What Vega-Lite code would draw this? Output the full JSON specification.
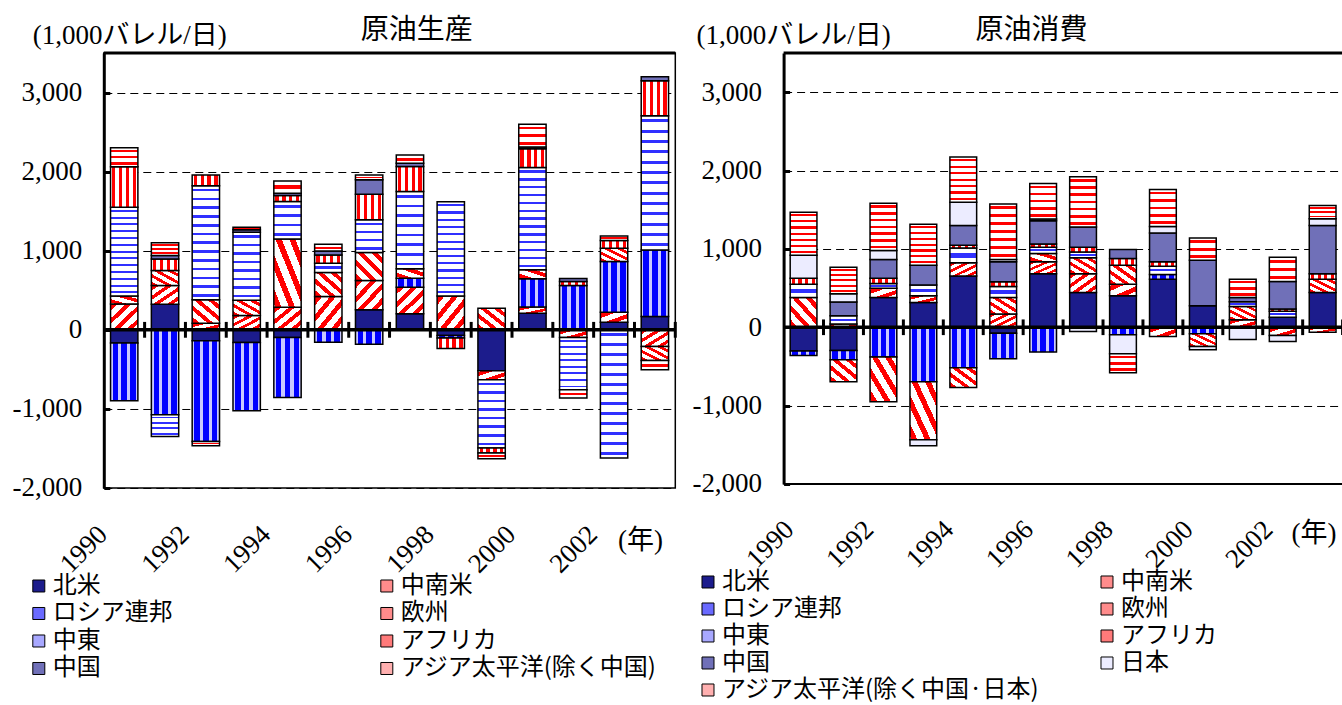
{
"$schema":"https://vega.github.io/schema/vega-lite/v6.json",
"background":"white",
"padding":{"left":10.8,"top":15,"right":0,"bottom":0},
"bounds":"flush",
"spacing":107.8,
"data":{"values":[
{"p":"P","year":1990,"region":"北米","v":-168},{"p":"P","year":1990,"region":"中南米","v":328},{"p":"P","year":1990,"region":"ロシア連邦","v":-728},{"p":"P","year":1990,"region":"欧州","v":101},{"p":"P","year":1990,"region":"中東","v":1120},{"p":"P","year":1990,"region":"アフリカ","v":514},{"p":"P","year":1990,"region":"アジア太平洋(除く中国)","v":240},
{"p":"P","year":1991,"region":"北米","v":324},{"p":"P","year":1991,"region":"中南米","v":236},{"p":"P","year":1991,"region":"ロシア連邦","v":-1074},{"p":"P","year":1991,"region":"欧州","v":189},{"p":"P","year":1991,"region":"中東","v":-274},{"p":"P","year":1991,"region":"アフリカ","v":147},{"p":"P","year":1991,"region":"中国","v":45},{"p":"P","year":1991,"region":"アジア太平洋(除く中国)","v":160},
{"p":"P","year":1992,"region":"北米","v":-139},{"p":"P","year":1992,"region":"中南米","v":84},{"p":"P","year":1992,"region":"ロシア連邦","v":-1272},{"p":"P","year":1992,"region":"欧州","v":295},{"p":"P","year":1992,"region":"中東","v":1444},{"p":"P","year":1992,"region":"アフリカ","v":135},{"p":"P","year":1992,"region":"アジア太平洋(除く中国)","v":-55},
{"p":"P","year":1993,"region":"北米","v":-160},{"p":"P","year":1993,"region":"中南米","v":181},{"p":"P","year":1993,"region":"ロシア連邦","v":-863},{"p":"P","year":1993,"region":"欧州","v":194},{"p":"P","year":1993,"region":"中東","v":859},{"p":"P","year":1993,"region":"中国","v":30},{"p":"P","year":1993,"region":"アジア太平洋(除く中国)","v":34},
{"p":"P","year":1994,"region":"北米","v":-97},{"p":"P","year":1994,"region":"中南米","v":286},{"p":"P","year":1994,"region":"ロシア連邦","v":-758},{"p":"P","year":1994,"region":"欧州","v":863},{"p":"P","year":1994,"region":"中東","v":472},{"p":"P","year":1994,"region":"アフリカ","v":76},{"p":"P","year":1994,"region":"中国","v":30},{"p":"P","year":1994,"region":"アジア太平洋(除く中国)","v":156},
{"p":"P","year":1995,"region":"中南米","v":421},{"p":"P","year":1995,"region":"ロシア連邦","v":-156},{"p":"P","year":1995,"region":"欧州","v":303},{"p":"P","year":1995,"region":"中東","v":118},{"p":"P","year":1995,"region":"アフリカ","v":105},{"p":"P","year":1995,"region":"中国","v":50},{"p":"P","year":1995,"region":"アジア太平洋(除く中国)","v":84},
{"p":"P","year":1996,"region":"北米","v":253},{"p":"P","year":1996,"region":"中南米","v":371},{"p":"P","year":1996,"region":"ロシア連邦","v":-181},{"p":"P","year":1996,"region":"欧州","v":354},{"p":"P","year":1996,"region":"中東","v":413},{"p":"P","year":1996,"region":"アフリカ","v":324},{"p":"P","year":1996,"region":"中国","v":181},{"p":"P","year":1996,"region":"アジア太平洋(除く中国)","v":63},
{"p":"P","year":1997,"region":"北米","v":202},{"p":"P","year":1997,"region":"中南米","v":337},{"p":"P","year":1997,"region":"ロシア連邦","v":114},{"p":"P","year":1997,"region":"欧州","v":118},{"p":"P","year":1997,"region":"中東","v":977},{"p":"P","year":1997,"region":"アフリカ","v":316},{"p":"P","year":1997,"region":"中国","v":42},{"p":"P","year":1997,"region":"アジア太平洋(除く中国)","v":105},
{"p":"P","year":1998,"region":"北米","v":-72},{"p":"P","year":1998,"region":"中南米","v":429},{"p":"P","year":1998,"region":"ロシア連邦","v":-30},{"p":"P","year":1998,"region":"中東","v":1191},{"p":"P","year":1998,"region":"アフリカ","v":-135},
{"p":"P","year":1999,"region":"北米","v":-518},{"p":"P","year":1999,"region":"中南米","v":-114},{"p":"P","year":1999,"region":"欧州","v":274},{"p":"P","year":1999,"region":"中東","v":-863},{"p":"P","year":1999,"region":"アフリカ","v":-63},{"p":"P","year":1999,"region":"アジア太平洋(除く中国)","v":-72},
{"p":"P","year":2000,"region":"北米","v":211},{"p":"P","year":2000,"region":"中南米","v":76},{"p":"P","year":2000,"region":"ロシア連邦","v":358},{"p":"P","year":2000,"region":"欧州","v":114},{"p":"P","year":2000,"region":"中東","v":1293},{"p":"P","year":2000,"region":"アフリカ","v":236},{"p":"P","year":2000,"region":"中国","v":25},{"p":"P","year":2000,"region":"アジア太平洋(除く中国)","v":286},
{"p":"P","year":2001,"region":"中南米","v":-97},{"p":"P","year":2001,"region":"ロシア連邦","v":560},{"p":"P","year":2001,"region":"中東","v":-661},{"p":"P","year":2001,"region":"アフリカ","v":50},{"p":"P","year":2001,"region":"中国","v":40},{"p":"P","year":2001,"region":"アジア太平洋(除く中国)","v":-105},
{"p":"P","year":2002,"region":"北米","v":97},{"p":"P","year":2002,"region":"中南米","v":126},{"p":"P","year":2002,"region":"ロシア連邦","v":640},{"p":"P","year":2002,"region":"欧州","v":168},{"p":"P","year":2002,"region":"中東","v":-1621},{"p":"P","year":2002,"region":"アフリカ","v":97},{"p":"P","year":2002,"region":"アジア太平洋(除く中国)","v":59},
{"p":"P","year":2003,"region":"北米","v":168},{"p":"P","year":2003,"region":"中南米","v":-211},{"p":"P","year":2003,"region":"ロシア連邦","v":842},{"p":"P","year":2003,"region":"欧州","v":-177},{"p":"P","year":2003,"region":"中東","v":1697},{"p":"P","year":2003,"region":"アフリカ","v":442},{"p":"P","year":2003,"region":"中国","v":50},{"p":"P","year":2003,"region":"アジア太平洋(除く中国)","v":-118},
{"p":"C","year":1990,"region":"北米","v":-304},{"p":"C","year":1990,"region":"ロシア連邦","v":-55},{"p":"C","year":1990,"region":"欧州","v":380},{"p":"C","year":1990,"region":"中東","v":169},{"p":"C","year":1990,"region":"アフリカ","v":76},{"p":"C","year":1990,"region":"日本","v":295},{"p":"C","year":1990,"region":"アジア太平洋(除く中国·日本)","v":549},
{"p":"C","year":1991,"region":"北米","v":-295},{"p":"C","year":1991,"region":"中南米","v":42},{"p":"C","year":1991,"region":"ロシア連邦","v":-118},{"p":"C","year":1991,"region":"欧州","v":-283},{"p":"C","year":1991,"region":"中東","v":105},{"p":"C","year":1991,"region":"中国","v":177},{"p":"C","year":1991,"region":"日本","v":105},{"p":"C","year":1991,"region":"アジア太平洋(除く中国·日本)","v":338},
{"p":"C","year":1992,"region":"北米","v":380},{"p":"C","year":1992,"region":"中南米","v":118},{"p":"C","year":1992,"region":"ロシア連邦","v":-380},{"p":"C","year":1992,"region":"欧州","v":-570},{"p":"C","year":1992,"region":"中東","v":59},{"p":"C","year":1992,"region":"アフリカ","v":68},{"p":"C","year":1992,"region":"中国","v":241},{"p":"C","year":1992,"region":"日本","v":114},{"p":"C","year":1992,"region":"アジア太平洋(除く中国·日本)","v":603},
{"p":"C","year":1993,"region":"北米","v":317},{"p":"C","year":1993,"region":"中南米","v":84},{"p":"C","year":1993,"region":"ロシア連邦","v":-696},{"p":"C","year":1993,"region":"欧州","v":-739},{"p":"C","year":1993,"region":"中東","v":139},{"p":"C","year":1993,"region":"中国","v":253},{"p":"C","year":1993,"region":"日本","v":-76},{"p":"C","year":1993,"region":"アジア太平洋(除く中国·日本)","v":523},
{"p":"C","year":1994,"region":"北米","v":654},{"p":"C","year":1994,"region":"中南米","v":169},{"p":"C","year":1994,"region":"ロシア連邦","v":-515},{"p":"C","year":1994,"region":"欧州","v":-253},{"p":"C","year":1994,"region":"中東","v":190},{"p":"C","year":1994,"region":"アフリカ","v":34},{"p":"C","year":1994,"region":"中国","v":253},{"p":"C","year":1994,"region":"日本","v":295},{"p":"C","year":1994,"region":"アジア太平洋(除く中国·日本)","v":578},
{"p":"C","year":1995,"region":"北米","v":-76},{"p":"C","year":1995,"region":"中南米","v":169},{"p":"C","year":1995,"region":"ロシア連邦","v":-325},{"p":"C","year":1995,"region":"欧州","v":211},{"p":"C","year":1995,"region":"中東","v":139},{"p":"C","year":1995,"region":"アフリカ","v":63},{"p":"C","year":1995,"region":"中国","v":253},{"p":"C","year":1995,"region":"日本","v":30},{"p":"C","year":1995,"region":"アジア太平洋(除く中国·日本)","v":709},
{"p":"C","year":1996,"region":"北米","v":684},{"p":"C","year":1996,"region":"中南米","v":152},{"p":"C","year":1996,"region":"ロシア連邦","v":-317},{"p":"C","year":1996,"region":"欧州","v":105},{"p":"C","year":1996,"region":"中東","v":80},{"p":"C","year":1996,"region":"アフリカ","v":42},{"p":"C","year":1996,"region":"中国","v":295},{"p":"C","year":1996,"region":"日本","v":25},{"p":"C","year":1996,"region":"アジア太平洋(除く中国·日本)","v":451},
{"p":"C","year":1997,"region":"北米","v":443},{"p":"C","year":1997,"region":"中南米","v":241},{"p":"C","year":1997,"region":"欧州","v":203},{"p":"C","year":1997,"region":"中東","v":72},{"p":"C","year":1997,"region":"アフリカ","v":63},{"p":"C","year":1997,"region":"中国","v":257},{"p":"C","year":1997,"region":"日本","v":-55},{"p":"C","year":1997,"region":"アジア太平洋(除く中国·日本)","v":641},
{"p":"C","year":1998,"region":"北米","v":401},{"p":"C","year":1998,"region":"中南米","v":148},{"p":"C","year":1998,"region":"ロシア連邦","v":-97},{"p":"C","year":1998,"region":"欧州","v":241},{"p":"C","year":1998,"region":"アフリカ","v":89},{"p":"C","year":1998,"region":"中国","v":114},{"p":"C","year":1998,"region":"日本","v":-241},{"p":"C","year":1998,"region":"アジア太平洋(除く中国·日本)","v":-241},
{"p":"C","year":1999,"region":"北米","v":612},{"p":"C","year":1999,"region":"中南米","v":-118},{"p":"C","year":1999,"region":"ロシア連邦","v":63},{"p":"C","year":1999,"region":"中東","v":105},{"p":"C","year":1999,"region":"アフリカ","v":55},{"p":"C","year":1999,"region":"中国","v":367},{"p":"C","year":1999,"region":"日本","v":84},{"p":"C","year":1999,"region":"アジア太平洋(除く中国·日本)","v":473},
{"p":"C","year":2000,"region":"北米","v":274},{"p":"C","year":2000,"region":"ロシア連邦","v":-84},{"p":"C","year":2000,"region":"欧州","v":-160},{"p":"C","year":2000,"region":"中国","v":582},{"p":"C","year":2000,"region":"日本","v":-42},{"p":"C","year":2000,"region":"アジア太平洋(除く中国·日本)","v":283},
{"p":"C","year":2001,"region":"中南米","v":97},{"p":"C","year":2001,"region":"欧州","v":169},{"p":"C","year":2001,"region":"中東","v":59},{"p":"C","year":2001,"region":"中国","v":55},{"p":"C","year":2001,"region":"日本","v":-156},{"p":"C","year":2001,"region":"アジア太平洋(除く中国·日本)","v":232},
{"p":"C","year":2002,"region":"北米","v":127},{"p":"C","year":2002,"region":"中南米","v":-105},{"p":"C","year":2002,"region":"中東","v":76},{"p":"C","year":2002,"region":"アフリカ","v":30},{"p":"C","year":2002,"region":"中国","v":350},{"p":"C","year":2002,"region":"日本","v":-76},{"p":"C","year":2002,"region":"アジア太平洋(除く中国·日本)","v":312},
{"p":"C","year":2003,"region":"北米","v":443},{"p":"C","year":2003,"region":"中南米","v":-63},{"p":"C","year":2003,"region":"欧州","v":169},{"p":"C","year":2003,"region":"アフリカ","v":72},{"p":"C","year":2003,"region":"中国","v":616},{"p":"C","year":2003,"region":"日本","v":84},{"p":"C","year":2003,"region":"アジア太平洋(除く中国·日本)","v":169}
]},
"hconcat":[
{
"width":571.5,"height":435,
"transform":[{"filter":"datum.p==='P'"}],
"layer":[
{
"transform":[{"calculate":"indexof(['北米','中南米','ロシア連邦','欧州','中東','アフリカ','中国','日本','アジア太平洋(除く中国)','アジア太平洋(除く中国·日本)'], datum.region)","as":"k"}],
"mark":{"type":"bar","stroke":"black","strokeWidth":1.5},
"encoding":{
"x":{"field":"year","type":"ordinal","scale":{"paddingInner":0.33,"paddingOuter":0.165},
 "axis":{"orient":"bottom","values":[1990,1992,1994,1996,1998,2000,2002],"labelAngle":-45,"labelAlign":"right","labelBaseline":"middle","labelOffset":-21,"labelPadding":42,"labelOverlap":false,"ticks":false,"domain":false,"grid":false,"labelFont":"Liberation Serif","labelFontSize":27,"labelColor":"black",
 "title":"(年)","titleX":513.7,"titleY":53,"titleAlign":"left","titleBaseline":"middle","titleAngle":0,"titleFont":"Liberation Serif, Noto Sans CJK JP","titleFontSize":27,"titleFontWeight":"normal","titleColor":"black"}},
"y":{"field":"v","type":"quantitative","stack":"zero","scale":{"domain":[-2000,3500],"nice":false},
 "axis":{"values":[-2000,-1000,0,1000,2000,3000],"labelExpr":"replace(format(datum.value, ','), '−', '-')","labelFont":"Liberation Serif","labelFontSize":27,"labelColor":"black","labelPadding":28,"tickSize":-6,"tickWidth":3,"tickColor":"black","domainColor":"black","domainWidth":3,"grid":true,"gridColor":"black","gridDash":[8,5],"gridWidth":1,
 "title":"(1,000バレル/日)","titleAngle":0,"titleAlign":"left","titleBaseline":"middle","titleX":-71.6,"titleY":-17.5,"titleFont":"Liberation Serif, Noto Sans CJK JP","titleFontSize":27,"titleFontWeight":"normal","titleColor":"black"}},
"fill":{"field":"region","type":"nominal",
 "scale":{"domain":["北米","ロシア連邦","中東","中国","中南米","欧州","アフリカ","アジア太平洋(除く中国)"],
 "range":["#1c1c8c","#6a6aff","#a8a8ff","#7070b8","#ff8c8c","#ff8c8c","#ff7a7a","#ffb0b0"]},
 "legend":{"orient":"none","direction":"vertical","legendX":-77,"legendY":521,"columns":2,"columnPadding":202,"rowPadding":3.5,"title":null,"symbolType":"square","symbolSize":144,"symbolStrokeColor":"black","symbolStrokeWidth":1,"symbolOpacity":1,"labelFont":"Noto Sans CJK JP","labelFontSize":24,"labelColor":"black","labelOffset":2,"labelLimit":600},
 "condition":[
 {"test":"datum.region==='中南米' && abs(datum.v)<150","value":{"gradient":"linear","x1":0,"y1":0,"x2":1,"y2":1,"stops":[{"offset":0,"color":"#ffffff"},{"offset":0.08,"color":"#ffffff"},{"offset":0.08,"color":"#ff0000"},{"offset":0.3,"color":"#ff0000"},{"offset":0.3,"color":"#ffffff"},{"offset":0.58,"color":"#ffffff"},{"offset":0.58,"color":"#ff0000"},{"offset":0.8,"color":"#ff0000"},{"offset":0.8,"color":"#ffffff"},{"offset":1,"color":"#ffffff"}]}},
 {"test":"datum.region==='中南米'","value":{"gradient":"linear","x1":0,"y1":0,"x2":1,"y2":1,"stops":[{"offset":0,"color":"#ffffff"},{"offset":0.03,"color":"#ffffff"},{"offset":0.03,"color":"#ff0000"},{"offset":0.14,"color":"#ff0000"},{"offset":0.14,"color":"#ffffff"},{"offset":0.28,"color":"#ffffff"},{"offset":0.28,"color":"#ff0000"},{"offset":0.39,"color":"#ff0000"},{"offset":0.39,"color":"#ffffff"},{"offset":0.53,"color":"#ffffff"},{"offset":0.53,"color":"#ff0000"},{"offset":0.64,"color":"#ff0000"},{"offset":0.64,"color":"#ffffff"},{"offset":0.78,"color":"#ffffff"},{"offset":0.78,"color":"#ff0000"},{"offset":0.89,"color":"#ff0000"},{"offset":0.89,"color":"#ffffff"},{"offset":1,"color":"#ffffff"}]}},
 {"test":"datum.region==='欧州' && abs(datum.v)<150","value":{"gradient":"linear","x1":0,"y1":1,"x2":1,"y2":0,"stops":[{"offset":0,"color":"#ffffff"},{"offset":0.08,"color":"#ffffff"},{"offset":0.08,"color":"#ff0000"},{"offset":0.3,"color":"#ff0000"},{"offset":0.3,"color":"#ffffff"},{"offset":0.58,"color":"#ffffff"},{"offset":0.58,"color":"#ff0000"},{"offset":0.8,"color":"#ff0000"},{"offset":0.8,"color":"#ffffff"},{"offset":1,"color":"#ffffff"}]}},
 {"test":"datum.region==='欧州'","value":{"gradient":"linear","x1":0,"y1":1,"x2":1,"y2":0,"stops":[{"offset":0,"color":"#ffffff"},{"offset":0.03,"color":"#ffffff"},{"offset":0.03,"color":"#ff0000"},{"offset":0.14,"color":"#ff0000"},{"offset":0.14,"color":"#ffffff"},{"offset":0.28,"color":"#ffffff"},{"offset":0.28,"color":"#ff0000"},{"offset":0.39,"color":"#ff0000"},{"offset":0.39,"color":"#ffffff"},{"offset":0.53,"color":"#ffffff"},{"offset":0.53,"color":"#ff0000"},{"offset":0.64,"color":"#ff0000"},{"offset":0.64,"color":"#ffffff"},{"offset":0.78,"color":"#ffffff"},{"offset":0.78,"color":"#ff0000"},{"offset":0.89,"color":"#ff0000"},{"offset":0.89,"color":"#ffffff"},{"offset":1,"color":"#ffffff"}]}},
 {"test":"datum.region==='アフリカ'","value":{"gradient":"linear","x1":0,"y1":0,"x2":1,"y2":0,"stops":[{"offset":0,"color":"#ffffff"},{"offset":0.06,"color":"#ffffff"},{"offset":0.06,"color":"#ff0000"},{"offset":0.18,"color":"#ff0000"},{"offset":0.18,"color":"#ffffff"},{"offset":0.31,"color":"#ffffff"},{"offset":0.31,"color":"#ff0000"},{"offset":0.43,"color":"#ff0000"},{"offset":0.43,"color":"#ffffff"},{"offset":0.56,"color":"#ffffff"},{"offset":0.56,"color":"#ff0000"},{"offset":0.68,"color":"#ff0000"},{"offset":0.68,"color":"#ffffff"},{"offset":0.81,"color":"#ffffff"},{"offset":0.81,"color":"#ff0000"},{"offset":0.93,"color":"#ff0000"},{"offset":0.93,"color":"#ffffff"},{"offset":1,"color":"#ffffff"}]}},
 {"test":"datum.region==='ロシア連邦'","value":{"gradient":"linear","x1":0,"y1":0,"x2":1,"y2":0,"stops":[{"offset":0,"color":"#c8c8ff"},{"offset":0.08,"color":"#c8c8ff"},{"offset":0.08,"color":"#0000ff"},{"offset":0.28,"color":"#0000ff"},{"offset":0.28,"color":"#c8c8ff"},{"offset":0.4,"color":"#c8c8ff"},{"offset":0.4,"color":"#0000ff"},{"offset":0.6,"color":"#0000ff"},{"offset":0.6,"color":"#c8c8ff"},{"offset":0.72,"color":"#c8c8ff"},{"offset":0.72,"color":"#0000ff"},{"offset":0.92,"color":"#0000ff"},{"offset":0.92,"color":"#c8c8ff"},{"offset":1,"color":"#c8c8ff"}]}},
 {"test":"indexof(datum.region,'アジア')===0 && abs(datum.v)<160","value":{"gradient":"linear","x1":0,"y1":0,"x2":0,"y2":1,"stops":[{"offset":0,"color":"#ffffff"},{"offset":0.33,"color":"#ffffff"},{"offset":0.33,"color":"#ff0000"},{"offset":0.67,"color":"#ff0000"},{"offset":0.67,"color":"#ffffff"},{"offset":1,"color":"#ffffff"}]}},
 {"test":"indexof(datum.region,'アジア')===0 && abs(datum.v)<330","value":{"gradient":"linear","x1":0,"y1":0,"x2":0,"y2":1,"stops":[{"offset":0,"color":"#ffffff"},{"offset":0.1,"color":"#ffffff"},{"offset":0.1,"color":"#ff0000"},{"offset":0.23,"color":"#ff0000"},{"offset":0.23,"color":"#ffffff"},{"offset":0.43,"color":"#ffffff"},{"offset":0.43,"color":"#ff0000"},{"offset":0.57,"color":"#ff0000"},{"offset":0.57,"color":"#ffffff"},{"offset":0.77,"color":"#ffffff"},{"offset":0.77,"color":"#ff0000"},{"offset":0.9,"color":"#ff0000"},{"offset":0.9,"color":"#ffffff"},{"offset":1,"color":"#ffffff"}]}},
 {"test":"indexof(datum.region,'アジア')===0 && abs(datum.v)<500","value":{"gradient":"linear","x1":0,"y1":0,"x2":0,"y2":1,"stops":[{"offset":0,"color":"#ffffff"},{"offset":0.065,"color":"#ffffff"},{"offset":0.065,"color":"#ff0000"},{"offset":0.135,"color":"#ff0000"},{"offset":0.135,"color":"#ffffff"},{"offset":0.265,"color":"#ffffff"},{"offset":0.265,"color":"#ff0000"},{"offset":0.335,"color":"#ff0000"},{"offset":0.335,"color":"#ffffff"},{"offset":0.465,"color":"#ffffff"},{"offset":0.465,"color":"#ff0000"},{"offset":0.535,"color":"#ff0000"},{"offset":0.535,"color":"#ffffff"},{"offset":0.665,"color":"#ffffff"},{"offset":0.665,"color":"#ff0000"},{"offset":0.735,"color":"#ff0000"},{"offset":0.735,"color":"#ffffff"},{"offset":0.865,"color":"#ffffff"},{"offset":0.865,"color":"#ff0000"},{"offset":0.935,"color":"#ff0000"},{"offset":0.935,"color":"#ffffff"},{"offset":1,"color":"#ffffff"}]}},
 {"test":"indexof(datum.region,'アジア')===0","value":{"gradient":"linear","x1":0,"y1":0,"x2":0,"y2":1,"stops":[{"offset":0,"color":"#ffffff"},{"offset":0.046,"color":"#ffffff"},{"offset":0.046,"color":"#ff0000"},{"offset":0.096,"color":"#ff0000"},{"offset":0.096,"color":"#ffffff"},{"offset":0.189,"color":"#ffffff"},{"offset":0.189,"color":"#ff0000"},{"offset":0.239,"color":"#ff0000"},{"offset":0.239,"color":"#ffffff"},{"offset":0.332,"color":"#ffffff"},{"offset":0.332,"color":"#ff0000"},{"offset":0.382,"color":"#ff0000"},{"offset":0.382,"color":"#ffffff"},{"offset":0.475,"color":"#ffffff"},{"offset":0.475,"color":"#ff0000"},{"offset":0.525,"color":"#ff0000"},{"offset":0.525,"color":"#ffffff"},{"offset":0.618,"color":"#ffffff"},{"offset":0.618,"color":"#ff0000"},{"offset":0.668,"color":"#ff0000"},{"offset":0.668,"color":"#ffffff"},{"offset":0.761,"color":"#ffffff"},{"offset":0.761,"color":"#ff0000"},{"offset":0.811,"color":"#ff0000"},{"offset":0.811,"color":"#ffffff"},{"offset":0.904,"color":"#ffffff"},{"offset":0.904,"color":"#ff0000"},{"offset":0.954,"color":"#ff0000"},{"offset":0.954,"color":"#ffffff"},{"offset":1,"color":"#ffffff"}]}},
 {"test":"datum.region==='中東' && abs(datum.v)<200","value":{"gradient":"linear","x1":0,"y1":0,"x2":0,"y2":1,"stops":[{"offset":0,"color":"#ffffff"},{"offset":0.35,"color":"#ffffff"},{"offset":0.35,"color":"#3030ff"},{"offset":0.65,"color":"#3030ff"},{"offset":0.65,"color":"#ffffff"},{"offset":1,"color":"#ffffff"}]}},
 {"test":"datum.region==='中東' && abs(datum.v)<600","value":{"gradient":"linear","x1":0,"y1":0,"x2":0,"y2":1,"stops":[{"offset":0,"color":"#ffffff"},{"offset":0.0875,"color":"#ffffff"},{"offset":0.0875,"color":"#3030ff"},{"offset":0.1625,"color":"#3030ff"},{"offset":0.1625,"color":"#ffffff"},{"offset":0.3375,"color":"#ffffff"},{"offset":0.3375,"color":"#3030ff"},{"offset":0.4125,"color":"#3030ff"},{"offset":0.4125,"color":"#ffffff"},{"offset":0.5875,"color":"#ffffff"},{"offset":0.5875,"color":"#3030ff"},{"offset":0.6625,"color":"#3030ff"},{"offset":0.6625,"color":"#ffffff"},{"offset":0.8375,"color":"#ffffff"},{"offset":0.8375,"color":"#3030ff"},{"offset":0.9125,"color":"#3030ff"},{"offset":0.9125,"color":"#ffffff"},{"offset":1,"color":"#ffffff"}]}},
 {"test":"datum.region==='中東' && abs(datum.v)<1000","value":{"gradient":"linear","x1":0,"y1":0,"x2":0,"y2":1,"stops":[{"offset":0,"color":"#ffffff"},{"offset":0.044,"color":"#ffffff"},{"offset":0.044,"color":"#3030ff"},{"offset":0.081,"color":"#3030ff"},{"offset":0.081,"color":"#ffffff"},{"offset":0.169,"color":"#ffffff"},{"offset":0.169,"color":"#3030ff"},{"offset":0.206,"color":"#3030ff"},{"offset":0.206,"color":"#ffffff"},{"offset":0.294,"color":"#ffffff"},{"offset":0.294,"color":"#3030ff"},{"offset":0.331,"color":"#3030ff"},{"offset":0.331,"color":"#ffffff"},{"offset":0.419,"color":"#ffffff"},{"offset":0.419,"color":"#3030ff"},{"offset":0.456,"color":"#3030ff"},{"offset":0.456,"color":"#ffffff"},{"offset":0.544,"color":"#ffffff"},{"offset":0.544,"color":"#3030ff"},{"offset":0.581,"color":"#3030ff"},{"offset":0.581,"color":"#ffffff"},{"offset":0.669,"color":"#ffffff"},{"offset":0.669,"color":"#3030ff"},{"offset":0.706,"color":"#3030ff"},{"offset":0.706,"color":"#ffffff"},{"offset":0.794,"color":"#ffffff"},{"offset":0.794,"color":"#3030ff"},{"offset":0.831,"color":"#3030ff"},{"offset":0.831,"color":"#ffffff"},{"offset":0.919,"color":"#ffffff"},{"offset":0.919,"color":"#3030ff"},{"offset":0.956,"color":"#3030ff"},{"offset":0.956,"color":"#ffffff"},{"offset":1,"color":"#ffffff"}]}},
 {"test":"datum.region==='中東'","value":{"gradient":"linear","x1":0,"y1":0,"x2":0,"y2":1,"stops":[{"offset":0,"color":"#ffffff"},{"offset":0.027,"color":"#ffffff"},{"offset":0.027,"color":"#3030ff"},{"offset":0.05,"color":"#3030ff"},{"offset":0.05,"color":"#ffffff"},{"offset":0.104,"color":"#ffffff"},{"offset":0.104,"color":"#3030ff"},{"offset":0.127,"color":"#3030ff"},{"offset":0.127,"color":"#ffffff"},{"offset":0.181,"color":"#ffffff"},{"offset":0.181,"color":"#3030ff"},{"offset":0.204,"color":"#3030ff"},{"offset":0.204,"color":"#ffffff"},{"offset":0.258,"color":"#ffffff"},{"offset":0.258,"color":"#3030ff"},{"offset":0.281,"color":"#3030ff"},{"offset":0.281,"color":"#ffffff"},{"offset":0.335,"color":"#ffffff"},{"offset":0.335,"color":"#3030ff"},{"offset":0.358,"color":"#3030ff"},{"offset":0.358,"color":"#ffffff"},{"offset":0.412,"color":"#ffffff"},{"offset":0.412,"color":"#3030ff"},{"offset":0.435,"color":"#3030ff"},{"offset":0.435,"color":"#ffffff"},{"offset":0.488,"color":"#ffffff"},{"offset":0.488,"color":"#3030ff"},{"offset":0.512,"color":"#3030ff"},{"offset":0.512,"color":"#ffffff"},{"offset":0.565,"color":"#ffffff"},{"offset":0.565,"color":"#3030ff"},{"offset":0.588,"color":"#3030ff"},{"offset":0.588,"color":"#ffffff"},{"offset":0.642,"color":"#ffffff"},{"offset":0.642,"color":"#3030ff"},{"offset":0.665,"color":"#3030ff"},{"offset":0.665,"color":"#ffffff"},{"offset":0.719,"color":"#ffffff"},{"offset":0.719,"color":"#3030ff"},{"offset":0.742,"color":"#3030ff"},{"offset":0.742,"color":"#ffffff"},{"offset":0.796,"color":"#ffffff"},{"offset":0.796,"color":"#3030ff"},{"offset":0.819,"color":"#3030ff"},{"offset":0.819,"color":"#ffffff"},{"offset":0.873,"color":"#ffffff"},{"offset":0.873,"color":"#3030ff"},{"offset":0.896,"color":"#3030ff"},{"offset":0.896,"color":"#ffffff"},{"offset":0.95,"color":"#ffffff"},{"offset":0.95,"color":"#3030ff"},{"offset":0.973,"color":"#3030ff"},{"offset":0.973,"color":"#ffffff"},{"offset":1,"color":"#ffffff"}]}}
 ]},
"order":{"field":"k","type":"quantitative","sort":"ascending"}
}
},
{
"transform":[{"aggregate":[{"op":"count","as":"n"}],"groupby":["year"]}],
"mark":{"type":"rule","color":"black","strokeWidth":3},
"encoding":{"x":{"field":"year","type":"ordinal","bandPosition":1.246,
 "axis":{"orient":"top","labels":false,"ticks":false,"domain":false,"grid":false,"title":"原油生産","titleX":312.5,"titleY":-22.7,"titleAlign":"center","titleBaseline":"middle","titleAngle":0,"titleFont":"Noto Sans CJK JP","titleFontSize":28,"titleFontWeight":"normal","titleColor":"black"}},
 "y":{"datum":-100,"axis":{"labelExpr":"replace(format(datum.value, ','), '−', '-')"}},"y2":{"datum":100}}
},
{
"transform":[{"aggregate":[{"op":"count","as":"n"}]}],
"mark":{"type":"rule","color":"black","strokeWidth":3.5},
"encoding":{"y":{"datum":0,"axis":{"labelExpr":"replace(format(datum.value, ','), '−', '-')"}}}
},
{
"transform":[{"aggregate":[{"op":"count","as":"n"}]}],
"mark":{"type":"rule","color":"black","strokeWidth":3},
"encoding":{"y":{"datum":3500,"axis":{"labelExpr":"replace(format(datum.value, ','), '−', '-')"}}}
}
]
},
{
"width":559,"height":431,
"view":{"stroke":null},
"transform":[{"filter":"datum.p==='C'"}],
"layer":[
{
"transform":[{"calculate":"indexof(['北米','中南米','ロシア連邦','欧州','中東','アフリカ','中国','日本','アジア太平洋(除く中国)','アジア太平洋(除く中国·日本)'], datum.region)","as":"k"}],
"mark":{"type":"bar","stroke":"black","strokeWidth":1.5},
"encoding":{
"x":{"field":"year","type":"ordinal","scale":{"paddingInner":0.33,"paddingOuter":0.165},
 "axis":{"orient":"bottom","values":[1990,1992,1994,1996,1998,2000,2002],"labelAngle":-45,"labelAlign":"right","labelBaseline":"middle","labelOffset":-14,"labelPadding":41,"labelOverlap":false,"ticks":false,"domain":false,"grid":false,"labelFont":"Liberation Serif","labelFontSize":27,"labelColor":"black",
 "title":"(年)","titleX":507.4,"titleY":50,"titleAlign":"left","titleBaseline":"middle","titleAngle":0,"titleFont":"Liberation Serif, Noto Sans CJK JP","titleFontSize":27,"titleFontWeight":"normal","titleColor":"black"}},
"y":{"field":"v","type":"quantitative","stack":"zero","scale":{"domain":[-2000,3500],"nice":false},
 "axis":{"values":[-2000,-1000,0,1000,2000,3000],"labelExpr":"replace(format(datum.value, ','), '−', '-')","labelFont":"Liberation Serif","labelFontSize":27,"labelColor":"black","labelPadding":28,"tickSize":-6,"tickWidth":3,"tickColor":"black","domainColor":"black","domainWidth":3,"grid":true,"gridColor":"black","gridDash":[8,5],"gridWidth":1,
 "title":"(1,000バレル/日)","titleAngle":0,"titleAlign":"left","titleBaseline":"middle","titleX":-87.6,"titleY":-17.5,"titleFont":"Liberation Serif, Noto Sans CJK JP","titleFontSize":27,"titleFontWeight":"normal","titleColor":"black"}},
"fill":{"field":"region","type":"nominal",
 "scale":{"domain":["北米","ロシア連邦","中東","中国","アジア太平洋(除く中国·日本)","中南米","欧州","アフリカ","日本"],
 "range":["#1c1c8c","#6a6aff","#a8a8ff","#7070b8","#ffb0b0","#ff8c8c","#ff8c8c","#ff7a7a","#ececff"]},
 "legend":{"orient":"none","direction":"vertical","legendX":-87.6,"legendY":517,"columns":2,"columnPadding":55,"rowPadding":3,"title":null,"symbolType":"square","symbolSize":144,"symbolStrokeColor":"black","symbolStrokeWidth":1,"symbolOpacity":1,"labelFont":"Noto Sans CJK JP","labelFontSize":24,"labelColor":"black","labelOffset":2,"labelLimit":600},
 "condition":[
 {"test":"datum.region==='中南米' && abs(datum.v)<150","value":{"gradient":"linear","x1":0,"y1":0,"x2":1,"y2":1,"stops":[{"offset":0,"color":"#ffffff"},{"offset":0.08,"color":"#ffffff"},{"offset":0.08,"color":"#ff0000"},{"offset":0.3,"color":"#ff0000"},{"offset":0.3,"color":"#ffffff"},{"offset":0.58,"color":"#ffffff"},{"offset":0.58,"color":"#ff0000"},{"offset":0.8,"color":"#ff0000"},{"offset":0.8,"color":"#ffffff"},{"offset":1,"color":"#ffffff"}]}},
 {"test":"datum.region==='中南米'","value":{"gradient":"linear","x1":0,"y1":0,"x2":1,"y2":1,"stops":[{"offset":0,"color":"#ffffff"},{"offset":0.03,"color":"#ffffff"},{"offset":0.03,"color":"#ff0000"},{"offset":0.14,"color":"#ff0000"},{"offset":0.14,"color":"#ffffff"},{"offset":0.28,"color":"#ffffff"},{"offset":0.28,"color":"#ff0000"},{"offset":0.39,"color":"#ff0000"},{"offset":0.39,"color":"#ffffff"},{"offset":0.53,"color":"#ffffff"},{"offset":0.53,"color":"#ff0000"},{"offset":0.64,"color":"#ff0000"},{"offset":0.64,"color":"#ffffff"},{"offset":0.78,"color":"#ffffff"},{"offset":0.78,"color":"#ff0000"},{"offset":0.89,"color":"#ff0000"},{"offset":0.89,"color":"#ffffff"},{"offset":1,"color":"#ffffff"}]}},
 {"test":"datum.region==='欧州' && abs(datum.v)<150","value":{"gradient":"linear","x1":0,"y1":1,"x2":1,"y2":0,"stops":[{"offset":0,"color":"#ffffff"},{"offset":0.08,"color":"#ffffff"},{"offset":0.08,"color":"#ff0000"},{"offset":0.3,"color":"#ff0000"},{"offset":0.3,"color":"#ffffff"},{"offset":0.58,"color":"#ffffff"},{"offset":0.58,"color":"#ff0000"},{"offset":0.8,"color":"#ff0000"},{"offset":0.8,"color":"#ffffff"},{"offset":1,"color":"#ffffff"}]}},
 {"test":"datum.region==='欧州'","value":{"gradient":"linear","x1":0,"y1":1,"x2":1,"y2":0,"stops":[{"offset":0,"color":"#ffffff"},{"offset":0.03,"color":"#ffffff"},{"offset":0.03,"color":"#ff0000"},{"offset":0.14,"color":"#ff0000"},{"offset":0.14,"color":"#ffffff"},{"offset":0.28,"color":"#ffffff"},{"offset":0.28,"color":"#ff0000"},{"offset":0.39,"color":"#ff0000"},{"offset":0.39,"color":"#ffffff"},{"offset":0.53,"color":"#ffffff"},{"offset":0.53,"color":"#ff0000"},{"offset":0.64,"color":"#ff0000"},{"offset":0.64,"color":"#ffffff"},{"offset":0.78,"color":"#ffffff"},{"offset":0.78,"color":"#ff0000"},{"offset":0.89,"color":"#ff0000"},{"offset":0.89,"color":"#ffffff"},{"offset":1,"color":"#ffffff"}]}},
 {"test":"datum.region==='アフリカ'","value":{"gradient":"linear","x1":0,"y1":0,"x2":1,"y2":0,"stops":[{"offset":0,"color":"#ffffff"},{"offset":0.06,"color":"#ffffff"},{"offset":0.06,"color":"#ff0000"},{"offset":0.18,"color":"#ff0000"},{"offset":0.18,"color":"#ffffff"},{"offset":0.31,"color":"#ffffff"},{"offset":0.31,"color":"#ff0000"},{"offset":0.43,"color":"#ff0000"},{"offset":0.43,"color":"#ffffff"},{"offset":0.56,"color":"#ffffff"},{"offset":0.56,"color":"#ff0000"},{"offset":0.68,"color":"#ff0000"},{"offset":0.68,"color":"#ffffff"},{"offset":0.81,"color":"#ffffff"},{"offset":0.81,"color":"#ff0000"},{"offset":0.93,"color":"#ff0000"},{"offset":0.93,"color":"#ffffff"},{"offset":1,"color":"#ffffff"}]}},
 {"test":"datum.region==='ロシア連邦'","value":{"gradient":"linear","x1":0,"y1":0,"x2":1,"y2":0,"stops":[{"offset":0,"color":"#c8c8ff"},{"offset":0.08,"color":"#c8c8ff"},{"offset":0.08,"color":"#0000ff"},{"offset":0.28,"color":"#0000ff"},{"offset":0.28,"color":"#c8c8ff"},{"offset":0.4,"color":"#c8c8ff"},{"offset":0.4,"color":"#0000ff"},{"offset":0.6,"color":"#0000ff"},{"offset":0.6,"color":"#c8c8ff"},{"offset":0.72,"color":"#c8c8ff"},{"offset":0.72,"color":"#0000ff"},{"offset":0.92,"color":"#0000ff"},{"offset":0.92,"color":"#c8c8ff"},{"offset":1,"color":"#c8c8ff"}]}},
 {"test":"indexof(datum.region,'アジア')===0 && abs(datum.v)<160","value":{"gradient":"linear","x1":0,"y1":0,"x2":0,"y2":1,"stops":[{"offset":0,"color":"#ffffff"},{"offset":0.33,"color":"#ffffff"},{"offset":0.33,"color":"#ff0000"},{"offset":0.67,"color":"#ff0000"},{"offset":0.67,"color":"#ffffff"},{"offset":1,"color":"#ffffff"}]}},
 {"test":"indexof(datum.region,'アジア')===0 && abs(datum.v)<330","value":{"gradient":"linear","x1":0,"y1":0,"x2":0,"y2":1,"stops":[{"offset":0,"color":"#ffffff"},{"offset":0.1,"color":"#ffffff"},{"offset":0.1,"color":"#ff0000"},{"offset":0.23,"color":"#ff0000"},{"offset":0.23,"color":"#ffffff"},{"offset":0.43,"color":"#ffffff"},{"offset":0.43,"color":"#ff0000"},{"offset":0.57,"color":"#ff0000"},{"offset":0.57,"color":"#ffffff"},{"offset":0.77,"color":"#ffffff"},{"offset":0.77,"color":"#ff0000"},{"offset":0.9,"color":"#ff0000"},{"offset":0.9,"color":"#ffffff"},{"offset":1,"color":"#ffffff"}]}},
 {"test":"indexof(datum.region,'アジア')===0 && abs(datum.v)<500","value":{"gradient":"linear","x1":0,"y1":0,"x2":0,"y2":1,"stops":[{"offset":0,"color":"#ffffff"},{"offset":0.065,"color":"#ffffff"},{"offset":0.065,"color":"#ff0000"},{"offset":0.135,"color":"#ff0000"},{"offset":0.135,"color":"#ffffff"},{"offset":0.265,"color":"#ffffff"},{"offset":0.265,"color":"#ff0000"},{"offset":0.335,"color":"#ff0000"},{"offset":0.335,"color":"#ffffff"},{"offset":0.465,"color":"#ffffff"},{"offset":0.465,"color":"#ff0000"},{"offset":0.535,"color":"#ff0000"},{"offset":0.535,"color":"#ffffff"},{"offset":0.665,"color":"#ffffff"},{"offset":0.665,"color":"#ff0000"},{"offset":0.735,"color":"#ff0000"},{"offset":0.735,"color":"#ffffff"},{"offset":0.865,"color":"#ffffff"},{"offset":0.865,"color":"#ff0000"},{"offset":0.935,"color":"#ff0000"},{"offset":0.935,"color":"#ffffff"},{"offset":1,"color":"#ffffff"}]}},
 {"test":"indexof(datum.region,'アジア')===0","value":{"gradient":"linear","x1":0,"y1":0,"x2":0,"y2":1,"stops":[{"offset":0,"color":"#ffffff"},{"offset":0.046,"color":"#ffffff"},{"offset":0.046,"color":"#ff0000"},{"offset":0.096,"color":"#ff0000"},{"offset":0.096,"color":"#ffffff"},{"offset":0.189,"color":"#ffffff"},{"offset":0.189,"color":"#ff0000"},{"offset":0.239,"color":"#ff0000"},{"offset":0.239,"color":"#ffffff"},{"offset":0.332,"color":"#ffffff"},{"offset":0.332,"color":"#ff0000"},{"offset":0.382,"color":"#ff0000"},{"offset":0.382,"color":"#ffffff"},{"offset":0.475,"color":"#ffffff"},{"offset":0.475,"color":"#ff0000"},{"offset":0.525,"color":"#ff0000"},{"offset":0.525,"color":"#ffffff"},{"offset":0.618,"color":"#ffffff"},{"offset":0.618,"color":"#ff0000"},{"offset":0.668,"color":"#ff0000"},{"offset":0.668,"color":"#ffffff"},{"offset":0.761,"color":"#ffffff"},{"offset":0.761,"color":"#ff0000"},{"offset":0.811,"color":"#ff0000"},{"offset":0.811,"color":"#ffffff"},{"offset":0.904,"color":"#ffffff"},{"offset":0.904,"color":"#ff0000"},{"offset":0.954,"color":"#ff0000"},{"offset":0.954,"color":"#ffffff"},{"offset":1,"color":"#ffffff"}]}},
 {"test":"datum.region==='中東'","value":{"gradient":"linear","x1":0,"y1":0,"x2":0,"y2":1,"stops":[{"offset":0,"color":"#ffffff"},{"offset":0.35,"color":"#ffffff"},{"offset":0.35,"color":"#3030ff"},{"offset":0.65,"color":"#3030ff"},{"offset":0.65,"color":"#ffffff"},{"offset":1,"color":"#ffffff"}]}}
 ]},
"order":{"field":"k","type":"quantitative","sort":"ascending"}
}
},
{
"transform":[{"aggregate":[{"op":"count","as":"n"}],"groupby":["year"]}],
"mark":{"type":"rule","color":"black","strokeWidth":3},
"encoding":{"x":{"field":"year","type":"ordinal","bandPosition":1.246,
 "axis":{"orient":"top","labels":false,"ticks":false,"domain":false,"grid":false,"title":"原油消費","titleX":247.4,"titleY":-22.7,"titleAlign":"center","titleBaseline":"middle","titleAngle":0,"titleFont":"Noto Sans CJK JP","titleFontSize":28,"titleFontWeight":"normal","titleColor":"black"}},
 "y":{"datum":-100,"axis":{"labelExpr":"replace(format(datum.value, ','), '−', '-')"}},"y2":{"datum":100}}
},
{
"transform":[{"aggregate":[{"op":"count","as":"n"}]}],
"mark":{"type":"rule","color":"black","strokeWidth":3.5},
"encoding":{"y":{"datum":0,"axis":{"labelExpr":"replace(format(datum.value, ','), '−', '-')"}}}
},
{
"transform":[{"aggregate":[{"op":"count","as":"n"}]}],
"mark":{"type":"rule","color":"black","strokeWidth":3},
"encoding":{"y":{"datum":3500,"axis":{"labelExpr":"replace(format(datum.value, ','), '−', '-')"}}}
},
{
"transform":[{"aggregate":[{"op":"count","as":"n"}]}],
"mark":{"type":"rule","color":"black","strokeWidth":2},
"encoding":{"y":{"datum":-2000,"axis":{"labelExpr":"replace(format(datum.value, ','), '−', '-')"}}}
}
]
}
],
"resolve":{"scale":{"x":"independent","y":"independent","fill":"independent"},"legend":{"fill":"independent"}},
"config":{"view":{"stroke":"black","strokeWidth":1.5},"axisY":{"labelExpr":"replace(format(datum.value, ','), '−', '-')"}}
}
